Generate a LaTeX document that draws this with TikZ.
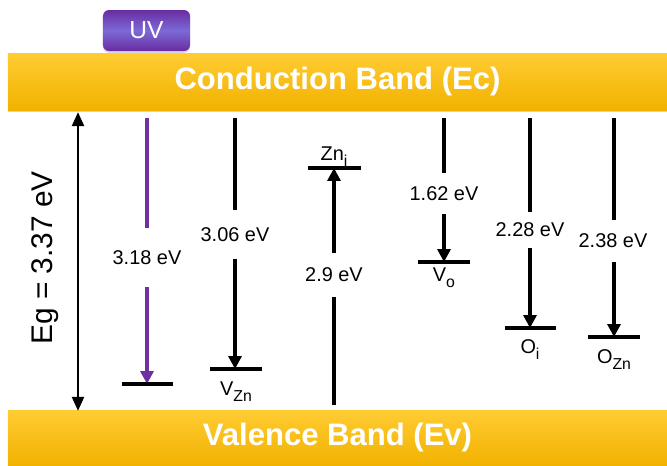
\documentclass[tikz,border=0pt]{standalone}
\usepackage{fontspec}
\setmainfont{Liberation Sans}
\usetikzlibrary{arrows.meta,shadows}
\definecolor{bandtop}{RGB}{255,204,51}
\definecolor{bandbot}{RGB}{242,178,0}
\definecolor{uvdark}{RGB}{104,44,160}
\definecolor{uvlight}{RGB}{125,105,215}
\definecolor{uvpurple}{RGB}{112,48,160}
\newcommand{\dsub}[1]{\raisebox{-0.32em}{\fontsize{13.5}{15}\selectfont #1}}

\tikzset{
  band/.style={top color=bandtop, bottom color=bandbot, minimum width=19.77cm,
    text=white, font=\fontsize{26.5}{30}\selectfont\bfseries, inner sep=0pt,
    drop shadow={opacity=0.35, shadow xshift=0pt, shadow yshift=-1.5pt}},
  seg/.style={line width=3pt},
  trans/.style={seg, -{Triangle[width=11pt,length=11pt]}},
  level/.style={line width=3pt},
  energy/.style={font=\fontsize{17}{20}\selectfont, inner sep=0pt},
  defect/.style={font=\fontsize{17}{20}\selectfont, inner sep=0pt, anchor=base},
}

\begin{document}
\begin{tikzpicture}[x=0.03cm, y=-0.03cm]
    \useasboundingbox (0,0) rectangle (667,465);

    % bands
    \node (cb) [band, minimum height=1.71cm] at (337.5,81.5) {Conduction Band (Ec)};
    \node (vb) [band, minimum height=1.65cm] at (337.5,437.5) {Valence Band (Ev)};
    \node (uv) [rounded corners=0.18cm, top color=uvdark, bottom color=uvdark,
        middle color=uvlight, minimum width=2.61cm, minimum height=1.23cm,
        drop shadow={opacity=0.3, shadow xshift=0pt, shadow yshift=-1.5pt},
        text=white, font=\fontsize{21}{24}\selectfont] at (146.5,30.5) {UV};

    % band gap
    \coordinate (egtop) at (78,112);
    \coordinate (egbot) at (78,411);
    \draw[line width=2.4pt, {Triangle[width=10pt,length=12pt]}-{Triangle[width=10pt,length=12pt]}] (egtop) -- (egbot);
    \node (eg) [rotate=90, font=\fontsize{25.5}{28}\selectfont] at (45,258) {Eg = 3.37 eV};

    % UV emission
    \coordinate (t1) at (147,118);
    \coordinate (lv1) at (147,384);
    \node (e1) [energy, minimum height=1.77cm] at (147,257.5) {3.18 eV};
    \draw[seg, uvpurple] (t1) -- (e1);
    \draw[trans, uvpurple] (e1) -- (lv1);
    \draw[level] (122,384) -- (173,384);

    % zinc vacancy
    \coordinate (t2) at (235,118);
    \coordinate (lv2) at (235,369);
    \node (e2) [energy, minimum height=1.47cm] at (235,234.5) {3.06 eV};
    \draw[seg] (t2) -- (e2);
    \draw[trans] (e2) -- (lv2);
    \draw[level] (210,369) -- (262,369);
    \node (vzn) [defect] at (236,395) {V\dsub{Zn}};

    % zinc interstitial
    \coordinate (b3) at (334,405);
    \coordinate (lv3) at (334,168);
    \node (e3) [energy, minimum height=1.32cm] at (334,275) {2.9 eV};
    \draw[seg] (b3) -- (e3);
    \draw[trans] (e3) -- (lv3);
    \draw[level] (308,168) -- (361,168);
    \node (zni) [defect] at (334,160) {Zn\dsub{i}};

    % oxygen vacancy
    \coordinate (t4) at (444,118);
    \coordinate (lv4) at (444,262);
    \node (e4) [energy, minimum height=1.23cm] at (444,193.5) {1.62 eV};
    \draw[seg] (t4) -- (e4);
    \draw[trans] (e4) -- (lv4);
    \draw[level] (418,262) -- (470,262);
    \node (vo) [defect] at (444,281) {V\dsub{o}};

    % oxygen interstitial
    \coordinate (t5) at (530,118);
    \coordinate (lv5) at (530,328);
    \node (e5) [energy, minimum height=1.08cm] at (530,230) {2.28 eV};
    \draw[seg] (t5) -- (e5);
    \draw[trans] (e5) -- (lv5);
    \draw[level] (505,328) -- (556,328);
    \node (oi) [defect] at (530,353) {O\dsub{i}};

    % oxygen antisite
    \coordinate (t6) at (614,118);
    \coordinate (lv6) at (614,337);
    \node (e6) [energy, minimum height=1.26cm] at (613,241) {2.38 eV};
    \draw[seg] (t6) -- (t6 |- e6.north);
    \draw[trans] (t6 |- e6.south) -- (lv6);
    \draw[level] (588,337) -- (640,337);
    \node (ozn) [defect] at (614,363) {O\dsub{Zn}};
\end{tikzpicture}
\end{document}
